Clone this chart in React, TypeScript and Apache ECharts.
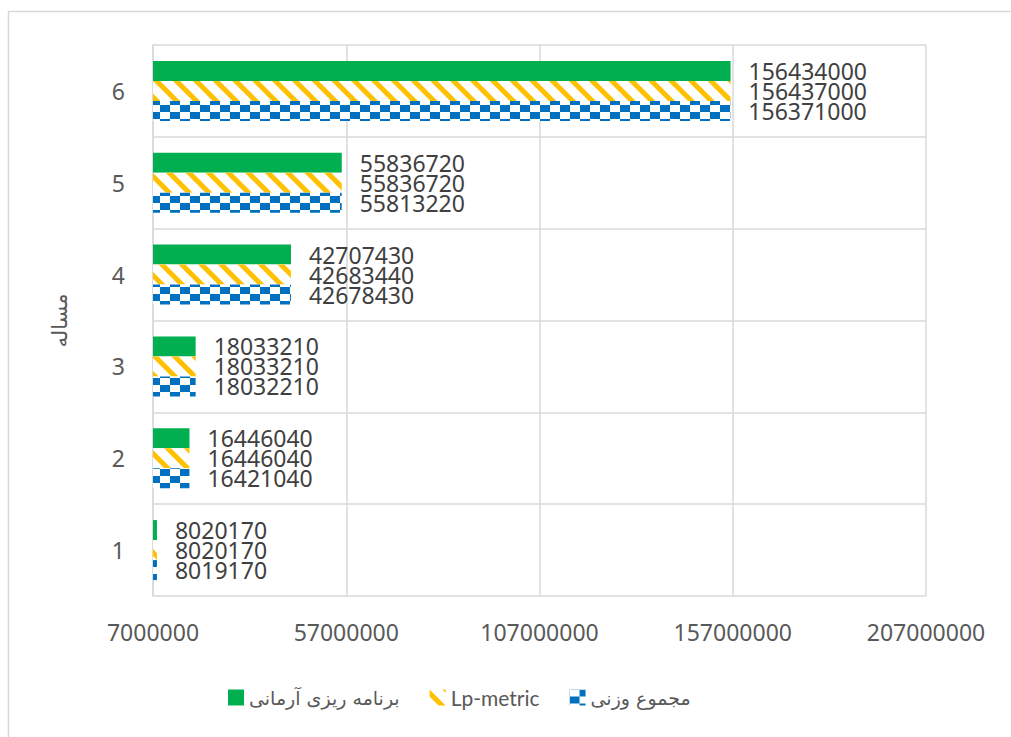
import React, { useEffect, useRef } from "react";
import * as echarts from "echarts";

const categories = ["1", "2", "3", "4", "5", "6"];
const goalProgramming = [8020170, 16446040, 18033210, 42707430, 55836720, 156434000];
const lpMetric = [8020170, 16446040, 18033210, 42683440, 55836720, 156437000];
const weightedSum = [8019170, 16421040, 18032210, 42678430, 55813220, 156371000];
const axisMin = 7000000;
const axisMax = 207000000;
const axisStep = 50000000;

const nameGoal = "برنامه ریزی آرمانی";
const nameLp = "Lp-metric";
const nameWeighted = "مجموع وزنی";

const numFont = "'Noto Sans', 'DejaVu Sans', sans-serif";
const faFont = "'DejaVu Sans', 'Noto Sans', sans-serif";

export default function App() {
  const ref = useRef<HTMLDivElement>(null);
  useEffect(() => {
    if (!ref.current) return;
    const chart = echarts.init(ref.current, null, { renderer: "svg" });
    const shift = (arr: number[]) => arr.map((v) => v - axisMin);
    const label = (arr: number[]) => ({
      show: true,
      position: "right",
      distance: 18,
      color: "#404040",
      fontSize: 23,
      lineHeight: 20,
      fontFamily: numFont,
      formatter: (p: any) => String(arr[p.dataIndex]),
    });
    chart.setOption({
      animation: false,
      backgroundColor: "#ffffff",
      graphic: [
        {
          type: "rect",
          shape: { x: 8.5, y: 11.5, width: 1100, height: 800 },
          style: { fill: "none", stroke: "#D9D9D9", lineWidth: 1.5 },
          silent: true,
          z: -10,
        },
      ],
      grid: { left: 153, top: 45, right: 85, bottom: 141 },
      legend: {
        left: 223,
        top: 682,
        icon: "rect",
        itemWidth: 16,
        itemHeight: 16,
        itemGap: 30,
        data: [nameGoal, nameLp, nameWeighted],
        formatter: (n: string) => (n === nameLp ? `{lp|${n}}` : `{fa|${n}}`),
        textStyle: {
          color: "#595959",
          rich: {
            fa: { fontSize: 19, color: "#595959", fontFamily: faFont },
            lp: { fontSize: 21, color: "#595959", fontFamily: "Lato, 'Noto Sans', sans-serif" },
          },
        },
      },
      xAxis: {
        type: "value",
        min: 0,
        max: axisMax - axisMin,
        interval: axisStep,
        axisLine: { show: false },
        axisTick: { show: false },
        splitLine: { show: true, lineStyle: { color: "#D9D9D9", width: 1.5 } },
        axisLabel: {
          margin: 24,
          color: "#595959",
          fontSize: 23,
          fontFamily: numFont,
          formatter: (v: number) => String(v + axisMin),
        },
      },
      yAxis: {
        type: "category",
        data: categories,
        name: "مساله",
        nameLocation: "middle",
        nameGap: 83,
        nameRotate: 90,
        nameTextStyle: { fontSize: 21, color: "#595959", fontFamily: faFont },
        axisLine: { show: true, lineStyle: { color: "#D9D9D9", width: 1.5 } },
        axisTick: { show: false },
        splitLine: { show: true, lineStyle: { color: "#D9D9D9", width: 1.5 } },
        axisLabel: { margin: 28, color: "#595959", fontSize: 23, fontFamily: numFont },
      },
      series: [
        {
          name: nameGoal,
          type: "bar",
          data: shift(goalProgramming),
          barWidth: 20,
          barGap: "0%",
          itemStyle: { color: "#00B050" },
          label: label(goalProgramming),
        },
        {
          name: nameLp,
          type: "bar",
          data: shift(lpMetric),
          barWidth: 20,
          barGap: "0%",
          itemStyle: {
            color: "#ffffff",
            decal: {
              symbol: "rect",
              symbolSize: 1,
              color: "#FFC000",
              dashArrayX: [1, 0],
              dashArrayY: [5, 9],
              rotation: Math.PI / 4,
            },
          },
          label: label(lpMetric),
        },
        {
          name: nameWeighted,
          type: "bar",
          data: shift(weightedSum),
          barWidth: 20,
          barGap: "0%",
          itemStyle: {
            color: "#ffffff",
            decal: {
              symbol: "rect",
              symbolSize: 1,
              color: "#0070C0",
              dashArrayX: [[10, 10], [0, 10, 10, 0]],
              dashArrayY: [7, 0],
            },
          },
          label: label(weightedSum),
        },
      ],
    });
    return () => chart.dispose();
  }, []);
  return (
    <div
      ref={ref}
      style={{ position: "absolute", left: 0, top: 0, width: 1011, height: 737 }}
    />
  );
}
